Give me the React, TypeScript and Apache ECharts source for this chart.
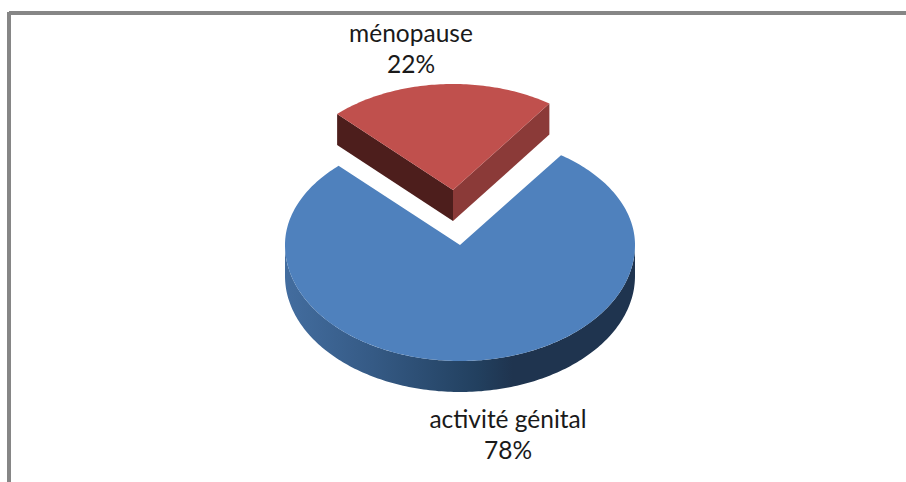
import React, { useEffect, useRef } from "react";
import * as echarts from "echarts";

const categories = ["activité génital", "ménopause"];
const shares = [78, 22];
const percentLabels = ["78%", "22%"];

const topColors = ["#4f81bd", "#c0504d"];
const wallLeft = "#4d1e1c";
const wallRight = "#8b3a38";
const DEPTH = 31;
const EXPLODED_DIRECTION = -4.35;

const rad = (d: number) => (d * Math.PI) / 180;

type Disc = { cx: number; cy: number; apexY: number; rx: number; far: number; near: number };
const mainDisc: Disc = { cx: 460, cy: 245, apexY: 245, rx: 175, far: 110, near: 116 };
const explodedDisc: Disc = { cx: 453, cy: 191, apexY: 190, rx: 167, far: 107, near: 107 };

function rim(d: Disc, deg: number): number[] {
  const c = Math.cos(rad(deg));
  return [d.cx + d.rx * Math.sin(rad(deg)), d.cy - c * (c > 0 ? d.far : d.near)];
}
function arc(d: Disc, from: number, to: number): number[][] {
  const pts: number[][] = [];
  const n = Math.ceil(Math.abs(to - from));
  for (let i = 0; i <= n; i++) pts.push(rim(d, from + ((to - from) * i) / n));
  return pts;
}
const down = (p: number[]) => [p[0], p[1] + DEPTH];
const poly = (points: number[][], fill: any) => ({
  type: "polygon",
  shape: { points },
  style: { fill },
});
const label = (name: string, pct: string, x: number, y: number) => ({
  type: "text",
  style: {
    x,
    y,
    text: name + "\n" + pct,
    fill: "#1a1a1a",
    font: '24.5px Lato, "Open Sans", sans-serif',
    lineHeight: 31,
    align: "center",
    verticalAlign: "middle",
  },
});

function renderSlices(params: any, api: any) {
  const i = params.dataIndex;
  const share = api.value(0) as number;
  const sweep = (share / 100) * 360;
  if (i === 1) {
    const a = EXPLODED_DIRECTION - sweep / 2;
    const b = EXPLODED_DIRECTION + sweep / 2;
    const d = explodedDisc;
    const apex = [d.cx, d.apexY];
    const L = rim(d, a);
    const R = rim(d, b);
    return {
      type: "group",
      children: [
        poly([L, apex, down(apex), down(L)], wallLeft),
        poly([R, apex, down(apex), down(R)], wallRight),
        poly([apex, ...arc(d, a, b)], topColors[i]),
        label(categories[i], percentLabels[i], 411, 48),
      ],
    };
  }
  const redSweep = ((100 - share) / 100) * 360;
  const a = EXPLODED_DIRECTION + redSweep / 2;
  const b = a + sweep;
  const d = mainDisc;
  const front = arc(d, 90, 270);
  const wallGradient = new echarts.graphic.LinearGradient(0, 0, 1, 0, [
    { offset: 0, color: "#436d9f" },
    { offset: 0.25, color: "#355a85" },
    { offset: 0.55, color: "#22405f" },
    { offset: 0.65, color: "#1f344f" },
    { offset: 1, color: "#1f344f" },
  ]);
  return {
    type: "group",
    children: [
      poly([...front, ...front.map(down).reverse()], wallGradient),
      poly([[d.cx, d.apexY], ...arc(d, a, b)], topColors[i]),
      label(categories[i], percentLabels[i], 508, 434),
    ],
  };
}

export default function App() {
  const ref = useRef<HTMLDivElement>(null);
  useEffect(() => {
    const chart = echarts.init(ref.current!, null, { renderer: "svg" });
    chart.setOption({
      animation: false,
      backgroundColor: "#ffffff",
      graphic: [
        { type: "rect", shape: { x: 9, y: 11, width: 897, height: 4 }, style: { fill: "#868686" } },
        { type: "rect", shape: { x: 7, y: 12, width: 4, height: 470 }, style: { fill: "#868686" } },
      ],
      series: [
        {
          type: "custom",
          coordinateSystem: "none",
          renderItem: renderSlices,
          data: shares.map((v, i) => ({ name: categories[i], value: [v] })),
        },
      ],
    });
    return () => chart.dispose();
  }, []);
  return <div ref={ref} style={{ position: "fixed", left: 0, top: 0, width: 906, height: 482 }} />;
}
